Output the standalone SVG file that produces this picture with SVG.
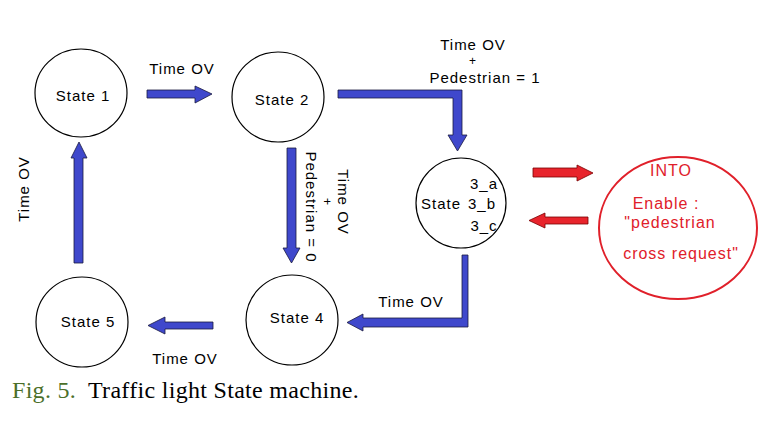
<svg xmlns="http://www.w3.org/2000/svg" width="763" height="422" viewBox="0 0 763 422">
<style>
.st{fill:#fff;stroke:#000;stroke-width:1.2}
.lb{font-family:"Liberation Sans","DejaVu Sans",sans-serif;font-size:15px;letter-spacing:1px;fill:#000;text-anchor:middle;dominant-baseline:central}
.pl{font-size:12px}
.ar{fill:#3f48cc;stroke:#1a1a40;stroke-width:0.8}
.rar{fill:#e8242c;stroke:#7a0000;stroke-width:0.8}
.rt{font-family:"Liberation Sans","DejaVu Sans",sans-serif;font-size:16px;letter-spacing:1px;fill:#e0202a;text-anchor:middle;dominant-baseline:central}
</style>
<rect width="763" height="422" fill="#fff"/>
<g id="state1"><ellipse class="st" cx="81" cy="93" rx="46" ry="44"/><text class="lb" x="83" y="95">State 1</text></g>
<g id="state2"><ellipse class="st" cx="278" cy="97" rx="46" ry="45"/><text class="lb" x="282" y="99">State 2</text></g>
<g id="state3"><ellipse class="st" cx="461" cy="203" rx="45" ry="45"/>
<text class="lb" x="441" y="203">State</text><text class="lb" x="482" y="203">3_b</text><text class="lb" x="484" y="183">3_a</text><text class="lb" x="484" y="225">3_c</text></g>
<g id="state4"><ellipse class="st" cx="292" cy="320" rx="46" ry="45"/><text class="lb" x="297" y="317">State 4</text></g>
<g id="state5"><ellipse class="st" cx="82" cy="322" rx="46" ry="45"/><text class="lb" x="88" y="321">State 5</text></g>
<g id="into"><ellipse cx="678" cy="228" rx="79" ry="71" fill="#fff" stroke="#e0202a" stroke-width="2"/>
<text class="rt" x="671" y="170">INTO</text><text class="rt" x="666" y="203">Enable :</text><text class="rt" x="670" y="222">"pedestrian</text><text class="rt" x="681" y="253">cross request"</text></g>
<g id="connectors">
<polygon class="ar" points="147,90 195,90 195,86 212,94 195,103 195,98 147,98"/>
<polygon class="ar" points="338,90 462,90 462,135 467,135 457.5,151 448,135 453,135 453,98 338,98"/>
<polygon class="ar" points="287,148 296,148 296,248 300,248 291.5,263 283,248 287,248"/>
<polygon class="ar" points="74,263 83,263 83,158 87,158 79,142 71,158 74,158"/>
<polygon class="ar" points="213,322 165,322 165,317 148,325.5 165,334 165,329 213,329"/>
<polygon class="ar" points="462,255 468,255 468,327 363,327 363,331 347,322.5 363,314 363,318 462,318"/>
<polygon class="rar" points="533,168 577,168 577,165 593,173 577,181 577,177 533,177"/>
<polygon class="rar" points="588,217 545,217 545,213 529,220.5 545,228 545,224 588,224"/>
<text class="lb" x="182" y="68">Time OV</text>
<text class="lb" x="473" y="44">Time OV</text>
<text class="lb pl" x="473" y="61">+</text>
<text class="lb" x="485" y="77">Pedestrian = 1</text>
<text class="lb" transform="translate(343,202) rotate(90)">Time OV</text>
<text class="lb pl" transform="translate(327,202) rotate(90)">+</text>
<text class="lb" transform="translate(311,207) rotate(90)">Pedestrian = 0</text>
<text class="lb" transform="translate(23,189) rotate(-90)">Time OV</text>
<text class="lb" x="411" y="301">Time OV</text>
<text class="lb" x="185" y="358">Time OV</text>
</g>
<text x="12" y="398" font-family="'Liberation Serif','Times New Roman',serif" font-size="24" letter-spacing="0.3"><tspan fill="#4b6f2a">Fig. 5.</tspan><tspan x="88" fill="#000">Traffic light State machine.</tspan></text>
</svg>
